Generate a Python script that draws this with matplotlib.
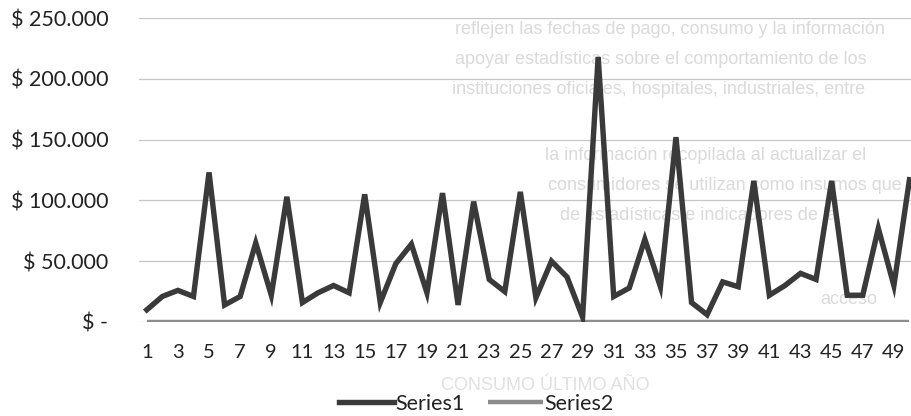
import matplotlib
matplotlib.use("Agg")
import numpy as np
from matplotlib import pyplot as plt
from matplotlib.ticker import FuncFormatter

# Data (Series1 = monthly consumption, Series2 = flat zero)
periods = list(range(1, 51))
series1 = [10000, 21000, 26000, 21000, 123000, 14000, 21000, 65000, 22000, 103000,
           16000, 24000, 30000, 24000, 105000, 16000, 48000, 64000, 24000, 106000,
           14000, 99000, 35000, 25000, 107000, 20000, 50000, 37000, 4000, 218000,
           21000, 28000, 68000, 29000, 152000, 16000, 6000, 33000, 29000, 116000,
           22000, 30000, 40000, 35000, 116000, 22000, 22000, 77000, 30000, 117000]
series2 = [0] * len(periods)
y_ticks = [0, 50000, 100000, 150000, 200000, 250000]
x_ticks = list(range(1, 50, 2))

# faint text bleeding through the scanned page
ghost_lines = [
    (455, 30, "reflejen las fechas de pago, consumo y la información"),
    (455, 60, "apoyar estadísticas sobre el comportamiento de los"),
    (452, 90, "instituciones oficiales, hospitales, industriales, entre"),
    (545, 155, "la información recopilada al actualizar el"),
    (548, 185, "consumidores se utilizan como insumos que"),
    (560, 215, "de estadísticas e indicadores de la"),
    (820, 300, "acceso"),
]


def money(v, pos):
    if v == 0:
        return "$ -"
    return "$ " + f"{int(v):,}".replace(",", ".")


W, H = 911, 416
fig = plt.figure(figsize=(W / 100, H / 100), dpi=100)
fig.patch.set_facecolor("white")

for gx, gy, txt in ghost_lines:
    fig.text(gx / W, 1 - gy / H, txt, fontsize=13, family="Liberation Sans",
             color="#dadada", va="center", ha="left", zorder=-5)
fig.text(545 / W, 1 - 385 / H, "CONSUMO ÚLTIMO AÑO", fontsize=13, family="Liberation Sans",
         color="#e0e0e0", va="center", ha="center", zorder=-5)

left = 139 / W
ax = fig.add_axes([left, (H - 322) / H, 1 - left, (322 - 18) / H])
ax.patch.set_alpha(0)

ax.plot(periods, series2, color="#8c8c8c", lw=3.2, solid_capstyle="butt", label="Series2", zorder=2)
ax.plot(periods, series1, color="#3a3a3a", lw=3.9, solid_joinstyle="miter", label="Series1", zorder=3)

ax.set_xlim(0.5, 50.1)
ax.set_ylim(0, 250000)
ax.set_yticks(y_ticks)
ax.yaxis.set_major_formatter(FuncFormatter(money))
ax.set_xticks(x_ticks)
ax.set_xticklabels([str(t) for t in x_ticks])
ax.grid(axis="y", color="#c6c6c6", lw=0.9)
ax.set_axisbelow(True)
for s in ax.spines.values():
    s.set_visible(False)
ax.tick_params(length=0, colors="#222222")
ax.tick_params(axis="y", pad=22, labelsize=15.5)
ax.tick_params(axis="x", pad=16, labelsize=14.5)
for lab in ax.get_xticklabels() + ax.get_yticklabels():
    lab.set_family("Lato")

handles, labels = ax.get_legend_handles_labels()
order = [1, 0]
leg = fig.legend([handles[i] for i in order], [labels[i] for i in order],
                 loc="center", bbox_to_anchor=(476 / W, 1 - 404 / H), ncol=2, frameon=False,
                 prop={"family": "Lato", "size": 15.5}, handlelength=2.55, handletextpad=0.05,
                 columnspacing=1.1)
for t in leg.get_texts():
    t.set_color("#222222")

fig.savefig("out.png", dpi=100)
